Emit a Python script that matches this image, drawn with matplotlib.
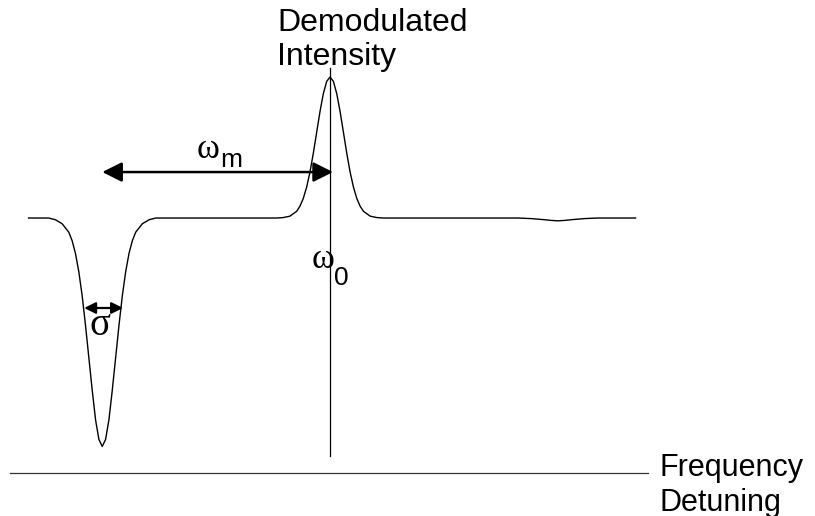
import matplotlib
matplotlib.use("Agg")
import matplotlib.pyplot as plt
from matplotlib.patches import FancyArrowPatch

# detuning in units of the line width (sigma), omega_0 at 0, omega_m = 17
detuning = [-22.5, -21.0, -20.5, -20.0, -19.5, -19.25, -19.0, -18.75, -18.5,
            -18.25, -18.0, -17.75, -17.5, -17.25, -17.0, -16.75, -16.5, -16.25,
            -16.0, -15.75, -15.5, -15.25, -15.0, -14.75, -14.5, -14.0, -13.5,
            -13.0, -4.0, -3.5, -3.0, -2.5, -2.25, -2.0, -1.75, -1.5, -1.25,
            -1.0, -0.75, -0.5, -0.25, 0.0, 0.25, 0.5, 0.75, 1.0, 1.25, 1.5,
            1.75, 2.0, 2.25, 2.5, 3.0, 3.5, 4.0, 14.0, 15.0, 16.0, 16.5, 17.0,
            17.5, 18.0, 19.0, 20.0, 22.8]
intensity = [0.0, 0.0, -0.012, -0.04, -0.10, -0.16, -0.25, -0.38, -0.55,
             -0.76, -0.99, -1.22, -1.43, -1.57, -1.62, -1.57, -1.43, -1.22,
             -0.99, -0.76, -0.55, -0.38, -0.25, -0.16, -0.10, -0.04, -0.012,
             0.0, 0.0, 0.003, 0.013, 0.047, 0.083, 0.138, 0.218, 0.325, 0.458,
             0.607, 0.755, 0.882, 0.969, 1.0, 0.969, 0.882, 0.755, 0.607, 0.458,
             0.325, 0.218, 0.138, 0.083, 0.047, 0.013, 0.003, 0.0, 0.0, -0.004,
             -0.012, -0.017, -0.02, -0.017, -0.012, -0.004, 0.0, 0.0]

omega_0 = 0.0
omega_m = 17.0

sans = "Liberation Sans"
serif = "Liberation Serif"

fig = plt.figure(figsize=(8.15, 5.16), dpi=100)
ax = fig.add_axes([0, 0, 1, 1])
ax.set_xlim(-24.63, 36.19)
ax.set_ylim(-2.113, 1.546)
ax.axis("off")

ax.plot(detuning, intensity, color="black", lw=1.0)

# resonance marker and frequency axis
ax.plot([omega_0, omega_0], [-1.688, 1.064], color="black", lw=0.9)
ax.plot([-23.9, 23.7], [-1.809, -1.809], color="#333333", lw=0.9)

arr = FancyArrowPatch((omega_0 - omega_m, 0.326), (omega_0 + 0.22, 0.326),
                      arrowstyle="<|-|>", mutation_scale=30, lw=1.8,
                      color="black", shrinkA=0, shrinkB=0)
ax.add_patch(arr)
arr2 = FancyArrowPatch((-omega_m - 1.35, -0.638), (-omega_m + 1.55, -0.638),
                       arrowstyle="<|-|>", mutation_scale=17, lw=1.6,
                       color="black", shrinkA=0, shrinkB=0)
ax.add_patch(arr2)

ax.text(-3.96, 1.326, "Demodulated", family=sans, fontsize=23, va="baseline")
ax.text(-3.96, 1.085, "Intensity", family=sans, fontsize=23, va="baseline")
ax.text(24.6, -1.830, "Frequency", family=sans, fontsize=22, va="baseline")
ax.text(24.6, -2.075, "Detuning", family=sans, fontsize=22, va="baseline")

ax.text(-9.95, 0.426, "ω", family=serif, fontsize=25, va="baseline")
ax.text(-8.2, 0.362, "m", family=sans, fontsize=19, va="baseline")
ax.text(-1.4, -0.355, "ω", family=serif, fontsize=25, va="baseline")
ax.text(0.3, -0.475, "0", family=sans, fontsize=19, va="baseline")
ax.text(-17.95, -0.83, "σ", family=serif, fontsize=28, va="baseline")

fig.savefig("out.png", dpi=100)
